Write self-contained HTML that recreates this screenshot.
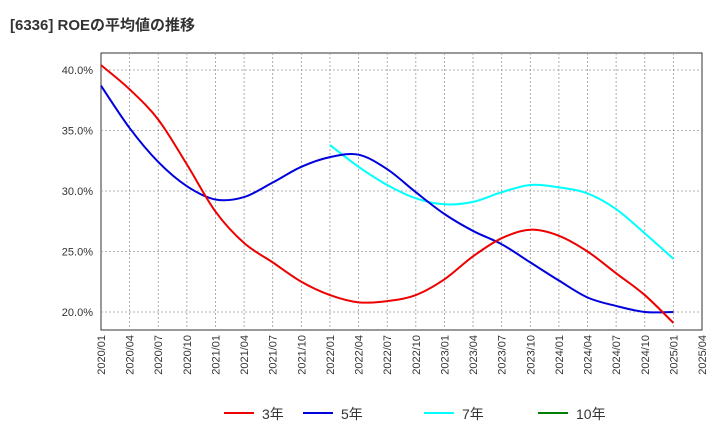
<!DOCTYPE html>
<html><head><meta charset="utf-8"><style>
body{margin:0;background:#fff;font-family:"Liberation Sans","Noto Sans CJK JP",sans-serif}
svg text{font-family:"Liberation Sans","Noto Sans CJK JP",sans-serif}
</style></head><body>
<svg id="c" width="720" height="440" viewBox="0 0 720 440">
<text x="10" y="30" font-size="15" font-weight="bold" fill="#333">[6336]  ROEの平均値の推移</text>
<g id="grid"></g><g id="series"></g><g id="axes"></g>
<g id="legend"></g>
</svg>
<script>
const xLabels=["2020/01","2020/04","2020/07","2020/10","2021/01","2021/04","2021/07","2021/10","2022/01","2022/04","2022/07","2022/10","2023/01","2023/04","2023/07","2023/10","2024/01","2024/04","2024/07","2024/10","2025/01","2025/04"];
const yTicks=[20,25,30,35,40];
const s3=[40.4,38.4,35.9,32.2,28.3,25.7,24.1,22.5,21.4,20.8,20.9,21.4,22.7,24.6,26.1,26.8,26.3,25.0,23.2,21.4,19.1];
const s5=[38.7,35.2,32.4,30.4,29.3,29.5,30.7,32.0,32.8,33.0,31.8,29.9,28.1,26.7,25.6,24.1,22.6,21.2,20.5,20.0,20.0];
const s7=[null,null,null,null,null,null,null,null,33.8,32.0,30.5,29.4,28.9,29.1,29.9,30.5,30.3,29.8,28.5,26.5,24.4];
const s10=[];
const X0=101,X1=702,Y0=53,Y1=330;
const xq=i=>X0+i*(X1-X0)/21;
const y=v=>312-(v-20)*(312-70)/20;
const NS="http://www.w3.org/2000/svg";
function mk(t,a,p){const e=document.createElementNS(NS,t);for(const k in a)e.setAttribute(k,a[k]);p.appendChild(e);return e;}
const grid=document.getElementById('grid'),axes=document.getElementById('axes'),ser=document.getElementById('series'),leg=document.getElementById('legend');
mk('rect',{x:X0,y:Y0,width:X1-X0,height:Y1-Y0,fill:'#fff',stroke:'#333','stroke-width':1},grid);
xLabels.forEach((l,i)=>{const x=xq(i);
 if(i>0&&i<21){const g=mk('line',{x1:x,x2:x,y1:Y0,y2:Y1,stroke:'#999','stroke-dasharray':'2,2','stroke-width':0.8},grid);
 }
 const t=mk('text',{x:0,y:0,'font-size':11,fill:'#333','text-anchor':'end',transform:`translate(${x+4},${Y1+5}) rotate(-90)`},axes);t.textContent=l;
 });
yTicks.forEach(v=>{const g=mk('line',{x1:X0,x2:X1,y1:y(v),y2:y(v),stroke:'#999','stroke-dasharray':'2,2','stroke-width':0.8},grid);
 
 const t=mk('text',{x:X0-8,y:y(v)+4,'font-size':11,fill:'#333','text-anchor':'end'},axes);t.textContent=v.toFixed(1)+'%';
 });
function path(arr,col,name){const p=[];arr.forEach((v,i)=>{if(v!=null)p.push([xq(i),y(v)]);});if(p.length<2)return;
 let d=`M${p[0][0]},${p[0][1]}`;
 for(let i=0;i<p.length-1;i++){const a=p[i-1]||p[i],b=p[i],c=p[i+1],e=p[i+2]||c;
  d+=` C${b[0]+(c[0]-a[0])/6},${b[1]+(c[1]-a[1])/6} ${c[0]-(e[0]-b[0])/6},${c[1]-(e[1]-b[1])/6} ${c[0]},${c[1]}`;}
 const el=mk('path',{d,fill:'none',stroke:col,'stroke-width':2},ser);
 }
path(s7,'#00ffff','line-7yr');path(s5,'#0000dd','line-5yr');path(s3,'#ee0000','line-3yr');path(s10,'#008000','line-10yr');
[["3年",'#ee0000',224],["5年",'#0000dd',303],["7年",'#00ffff',424],["10年",'#008000',538]].forEach(([l,c,x])=>{
 const g=mk('g',{},leg);
 mk('line',{x1:x,x2:x+30,y1:413,y2:413,stroke:c,'stroke-width':2},g);
 const t=mk('text',{x:x+38,y:419,'font-size':14,fill:'#333'},g);t.textContent=l;});
</script>
</body></html>
